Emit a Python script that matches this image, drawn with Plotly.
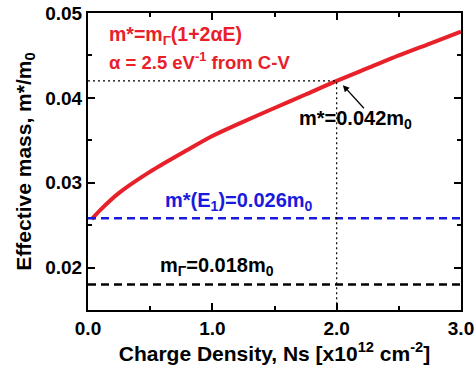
import plotly.graph_objects as go

# Effective mass vs. sheet charge density
ns = [0.03, 0.1, 0.25, 0.5, 0.78, 1.0, 1.22, 1.5, 1.75, 2.0, 2.25, 2.5, 2.75, 3.0]
m_eff = [0.0257, 0.0268, 0.0288, 0.0313, 0.0337, 0.0355, 0.0370, 0.0388, 0.0404,
         0.0420, 0.0435, 0.0450, 0.0464, 0.0478]

m_e1 = 0.0258      # m*(E1)
m_gamma = 0.018    # band-edge mass
ns_mark = 2.0
m_mark = 0.042

x_range = [0.0, 3.0]
y_range = [0.015, 0.05]

RED = "#e8202a"
BLUE = "#1a1adc"
FONT = "Liberation Sans"

fig = go.Figure()

fig.add_trace(go.Scatter(x=ns, y=m_eff, mode="lines",
                         line=dict(color=RED, width=4, shape="spline", smoothing=0.8),
                         hoverinfo="skip"))
fig.add_trace(go.Scatter(x=x_range, y=[m_e1, m_e1], mode="lines",
                         line=dict(color=BLUE, width=2.5, dash="8px,5px")))
fig.add_trace(go.Scatter(x=x_range, y=[m_gamma, m_gamma], mode="lines",
                         line=dict(color="black", width=2.5, dash="8px,5px")))
# guide lines to the marked point
fig.add_trace(go.Scatter(x=[x_range[0], ns_mark, ns_mark], y=[m_mark, m_mark, y_range[0]],
                         mode="lines", line=dict(color="black", width=1.2, dash="2px,3px")))

fig.add_annotation(x=0.15, y=0.0474, xref="x", yref="y", xanchor="left", yanchor="middle",
                   text="<b>m*=m<sub>Γ</sub>(1+2αE)</b>", showarrow=False,
                   font=dict(family=FONT, size=19.5, color=RED))
fig.add_annotation(x=0.15, y=0.0443, xref="x", yref="y", xanchor="left", yanchor="middle",
                   text="<b>α = 2.5 eV<sup>-1</sup> from C-V</b>", showarrow=False,
                   font=dict(family=FONT, size=18.5, color=RED))
fig.add_annotation(x=2.05, y=0.0415, ax=2.23, ay=0.0386, xref="x", yref="y",
                   axref="x", ayref="y",
                   text="", showarrow=True, arrowhead=2, arrowsize=1, arrowwidth=1.3,
                   arrowcolor="black")
fig.add_annotation(x=2.15, y=0.0375, xref="x", yref="y", xanchor="center", yanchor="middle",
                   text="<b>m*=0.042m<sub>0</sub></b>", showarrow=False,
                   font=dict(family=FONT, size=20, color="black"))
fig.add_annotation(x=0.6, y=0.0278, xref="x", yref="y", xanchor="left", yanchor="middle",
                   text="<b>m*(E<sub>1</sub>)=0.026m<sub>0</sub></b>", showarrow=False,
                   font=dict(family=FONT, size=20, color=BLUE))
fig.add_annotation(x=0.56, y=0.0201, xref="x", yref="y", xanchor="left", yanchor="middle",
                   text="<b>m<sub>Γ</sub>=0.018m<sub>0</sub></b>", showarrow=False,
                   font=dict(family=FONT, size=20, color="black"))

axis_common = dict(showline=True, linecolor="black", linewidth=2, mirror="allticks",
                   ticks="inside", ticklen=7, tickwidth=2, tickcolor="black",
                   showgrid=False, zeroline=False, automargin=False,
                   ticklabeloverflow="allow",
                   tickprefix="<b>", ticksuffix="</b>",
                   tickfont=dict(family=FONT, size=19, color="black"))

fig.update_xaxes(range=x_range, dtick=1.0, tick0=0, tickformat=".1f",
                 minor=dict(ticks="inside", dtick=0.5, ticklen=4, tickwidth=1.5, tickcolor="black"),
                 title=dict(text="<b>Charge Density, Ns [x10<sup>12</sup> cm<sup>-2</sup>]</b>",
                            font=dict(family=FONT, size=21, color="black"), standoff=8),
                 **axis_common)
fig.update_yaxes(range=y_range, dtick=0.01, tick0=0.0, tickformat=".2f",
                 minor=dict(ticks="inside", dtick=0.005, ticklen=4, tickwidth=1.5, tickcolor="black"),
                 title=dict(text="<b>Effective mass, m*/m<sub>0</sub></b>",
                            font=dict(family=FONT, size=21, color="black"), standoff=8),
                 **axis_common)

fig.update_layout(width=474, height=374, margin=dict(l=88, r=13, t=13, b=64),
                  paper_bgcolor="white", plot_bgcolor="white", showlegend=False,
                  font=dict(family=FONT, size=19, color="black"))

fig.write_html("out.html")
